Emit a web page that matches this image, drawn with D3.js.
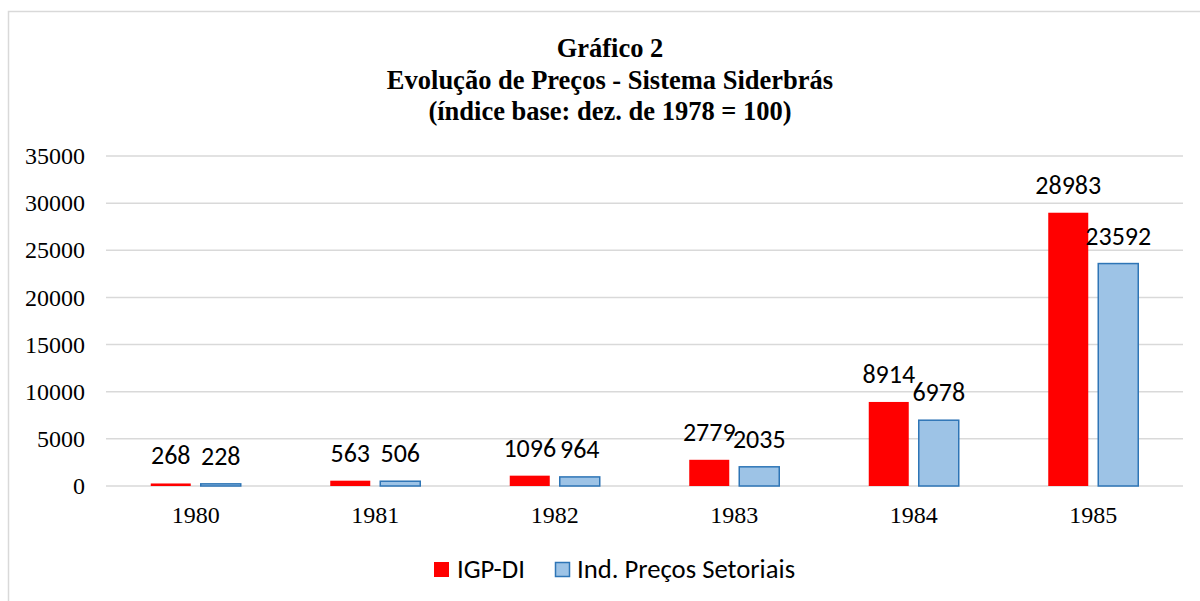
<!DOCTYPE html>
<html><head><meta charset="utf-8">
<script src="https://cdn.jsdelivr.net/npm/d3@7"></script>
<style>body{margin:0;background:#fff}</style>
</head><body>
<svg id="c" width="1200" height="601"></svg>
<script>
const categories = ["1980","1981","1982","1983","1984","1985"];
const igpdi = [268, 563, 1096, 2779, 8914, 28983];
const setoriais = [228, 506, 964, 2035, 6978, 23592];
const yTicks = [0,5000,10000,15000,20000,25000,30000,35000];
const seriesNames = ["IGP-DI","Ind. Preços Setoriais"];
const titleLines = ["Gráfico 2","Evolução de Preços - Sistema Siderbrás","(índice base: dez. de 1978 = 100)"];

(function(){
const svg = d3.select("#c");
svg.append("rect").attr("x",8.5).attr("y",11.5).attr("width",1200).attr("height",600)
  .attr("fill","#fff").attr("stroke","#d9d9d9").attr("stroke-width",1.5);

const pl=106, pr=1183, pt=156, pb=486;
const x = d3.scaleBand().domain(categories).range([pl,pr]);
const y = d3.scaleLinear().domain([0,35000]).range([pb,pt]);

const tf = "'Liberation Serif','Times New Roman',serif";
const cf = "Carlito, Lato, 'Open Sans', sans-serif";

titleLines.forEach((t,i)=>{
  svg.append("text").attr("x",610).attr("y",57+i*31.5).attr("text-anchor","middle")
    .attr("font-family",tf).attr("font-weight","bold").attr("font-size",26.5).text(t);
});

svg.append("g").selectAll("line").data(yTicks).join("line")
  .attr("x1",pl).attr("x2",pr).attr("y1",d=>y(d)).attr("y2",d=>y(d))
  .attr("stroke","#d9d9d9").attr("stroke-width",1.5);

const yAxis = d3.axisLeft(y).tickValues(yTicks).tickSize(0).tickPadding(0).tickFormat(d3.format("d"));
const ga = svg.append("g").attr("transform","translate(85,0)").call(yAxis);
ga.select(".domain").remove();
ga.selectAll("text").attr("font-family",tf).attr("font-size",24).attr("fill","#000");

const xAxis = d3.axisBottom(x).tickSize(0).tickPadding(0);
const gx = svg.append("g").attr("transform","translate(0,506)").call(xAxis);
gx.select(".domain").remove();
gx.selectAll("text").attr("font-family",tf).attr("font-size",24).attr("fill","#000");

const bw = 40, gap = 10;
const series = [
  {vals:igpdi, fill:"#ff0000", stroke:"none", off:-(gap/2+bw)},
  {vals:setoriais, fill:"#9dc3e6", stroke:"#2e75b6", off:gap/2}
];
series.forEach(s=>{
  const cx = c=>x(c)+x.bandwidth()/2;
  svg.append("g").selectAll("rect").data(categories).join("rect")
    .attr("x",(c)=>cx(c)+s.off).attr("width",bw)
    .attr("y",(c,i)=>y(s.vals[i])).attr("height",(c,i)=>y(0)-y(s.vals[i]))
    .attr("fill",s.fill).attr("stroke",s.stroke).attr("stroke-width",1.5);
  svg.append("g").selectAll("text").data(categories).join("text")
    .attr("x",(c)=>cx(c)+s.off+bw/2).attr("y",(c,i)=>y(s.vals[i])-19)
    .attr("text-anchor","middle").attr("font-family",cf).attr("font-size",26)
    .text((c,i)=>s.vals[i]);
});

const lg = svg.append("g");
lg.append("rect").attr("x",434).attr("y",562).attr("width",15).attr("height",15).attr("fill","#ff0000");
lg.append("text").attr("x",457).attr("y",578).attr("font-family",cf).attr("font-size",26.7).text(seriesNames[0]);
lg.append("rect").attr("x",555.5).attr("y",562.5).attr("width",14).attr("height",14).attr("fill","#9dc3e6").attr("stroke","#2e75b6").attr("stroke-width",1.5);
lg.append("text").attr("x",577).attr("y",578).attr("font-family",cf).attr("font-size",26.7).text(seriesNames[1]);
})();
</script>
</body></html>
